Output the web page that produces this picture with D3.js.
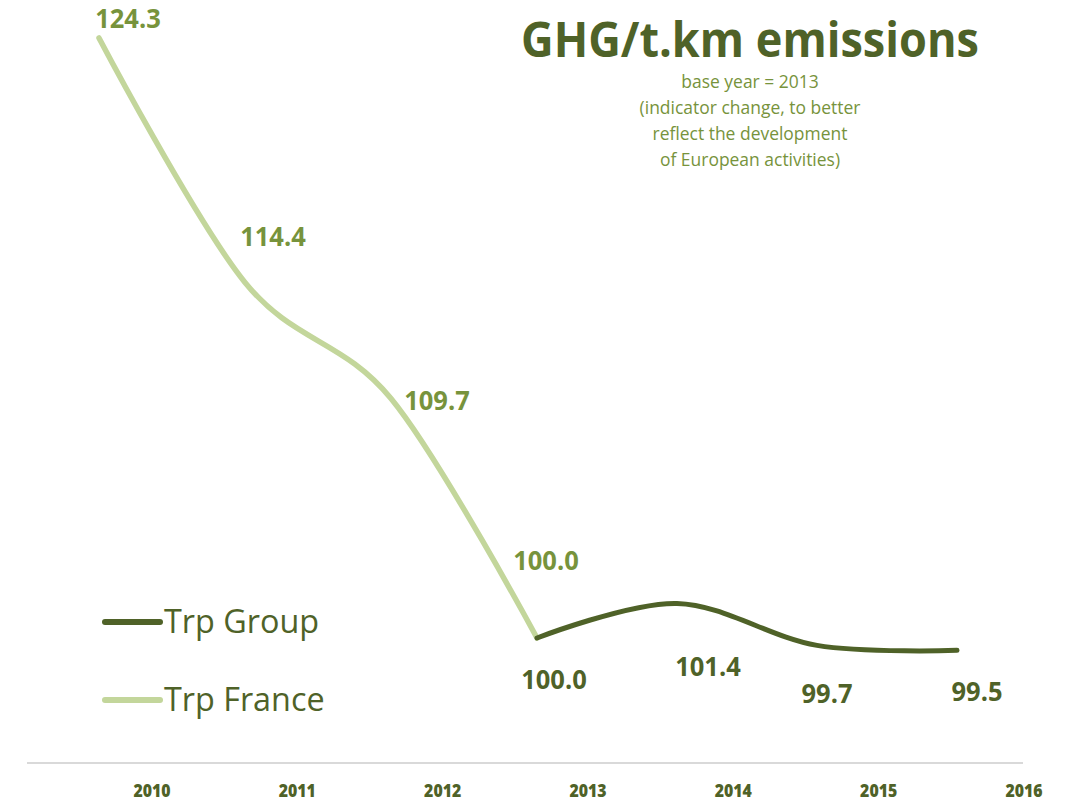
<!DOCTYPE html>
<html>
<head>
<meta charset="utf-8">
<script src="https://cdn.jsdelivr.net/npm/d3@7"></script>
<style>
  body { margin: 0; background: #fff; }
  text { font-family: "Open Sans", "Noto Sans", sans-serif; }
</style>
</head>
<body>
<div id="wrapper"></div>
<script>
// 1. Data
const years = ["2010", "2011", "2012", "2013", "2014", "2015", "2016"]
const franceYears = ["2010", "2011", "2012", "2013"]
const franceValues = [124.3, 114.4, 109.7, 100.0]
const groupYears = ["2013", "2014", "2015", "2016"]
const groupValues = [100.0, 101.4, 99.7, 99.5]
const seriesNames = ["Trp Group", "Trp France"]
const subtitleLines = ["base year = 2013", "(indicator change, to better",
                       "reflect the development", "of European activities)"]

// hand placed label nudges (like the original), px from the point
const franceNudge = [[29, -10], [28, -36], [46, 12], [9, -68]]
const groupNudge = [[17, 51], [31, 73], [10, 58], [20, 51]]

const darkGreen = "#4f6228"
const midGreen = "#77933c"
const lightGreen = "#c3d69b"

// 2. Dimensions
const dimensions = { width: 1068, height: 804 }

// 3. Canvas
const svg = d3.select("#wrapper").append("svg")
    .attr("width", dimensions.width)
    .attr("height", dimensions.height)
    .style("display", "block")

// squeeze text horizontally (Calibri is narrower than Open Sans)
const squeeze = (sel, k) => sel.each(function () {
  const w = this.getComputedTextLength()
  d3.select(this).attr("textLength", w * k).attr("lengthAdjust", "spacingAndGlyphs")
})

// 4. Scales
const xFrance = d3.scalePoint().domain(franceYears).range([99, 537])
const xGroup = d3.scalePoint().domain(groupYears).range([537, 957])
const xAxisScale = d3.scalePoint().domain(years).range([152, 1024])
const yScale = d3.scaleLinear().domain([100, 124.3]).range([638, 38])

// 5. Axis
svg.append("line")
    .attr("x1", 27).attr("x2", 1023)
    .attr("y1", 763).attr("y2", 763)
    .attr("stroke", "#d9d9d9")
    .attr("stroke-width", 2)

svg.append("g").selectAll("text")
  .data(years)
  .join("text")
    .attr("x", d => xAxisScale(d))
    .attr("y", 797)
    .attr("text-anchor", "middle")
    .attr("fill", darkGreen)
    .style("font-size", "18px")
    .style("font-weight", 800)
    .text(d => d)
    .call(squeeze, 0.88)

// 6. Lines
const line = d3.line().curve(d3.curveCardinal.tension(0))

const francePts = franceValues.map((v, i) => [xFrance(franceYears[i]), yScale(v)])
const groupPts = groupValues.map((v, i) => [xGroup(groupYears[i]), yScale(v)])

svg.append("path")
    .attr("d", line(francePts))
    .attr("fill", "none")
    .attr("stroke", lightGreen)
    .attr("stroke-width", 5.5)
    .attr("stroke-linecap", "round")

svg.append("path")
    .attr("d", line(groupPts))
    .attr("fill", "none")
    .attr("stroke", darkGreen)
    .attr("stroke-width", 5)
    .attr("stroke-linecap", "round")

// 7. Data labels
svg.append("g").selectAll("text")
  .data(franceValues)
  .join("text")
    .attr("x", (d, i) => francePts[i][0] + franceNudge[i][0])
    .attr("y", (d, i) => francePts[i][1] + franceNudge[i][1])
    .attr("text-anchor", "middle")
    .attr("fill", midGreen)
    .style("font-size", "26px")
    .style("font-weight", 700)
    .text(d => d3.format(".1f")(d))
    .call(squeeze, 0.98)

svg.append("g").selectAll("text")
  .data(groupValues)
  .join("text")
    .attr("x", (d, i) => groupPts[i][0] + groupNudge[i][0])
    .attr("y", (d, i) => groupPts[i][1] + groupNudge[i][1])
    .attr("text-anchor", "middle")
    .attr("fill", darkGreen)
    .style("font-size", "26px")
    .style("font-weight", 700)
    .text(d => d3.format(".1f")(d))
    .call(squeeze, 0.98)

// 8. Title
svg.append("text")
    .attr("x", 750)
    .attr("y", 57)
    .attr("text-anchor", "middle")
    .attr("fill", darkGreen)
    .style("font-size", "49px")
    .style("font-weight", 700)
    .text("GHG/t.km emissions")
    .call(squeeze, 0.92)

svg.append("g").selectAll("text")
  .data(subtitleLines)
  .join("text")
    .attr("x", 750)
    .attr("y", (d, i) => 88 + i * 26)
    .attr("text-anchor", "middle")
    .attr("fill", midGreen)
    .style("font-size", "18px")
    .text(d => d)
    .call(squeeze, 0.97)

// 9. Legend
const legendColors = [darkGreen, lightGreen]
const legend = svg.append("g").selectAll("g")
  .data(seriesNames)
  .join("g")
    .attr("transform", (d, i) => `translate(105, ${622 + i * 78})`)

legend.append("line")
    .attr("x1", 0).attr("x2", 55)
    .attr("stroke", (d, i) => legendColors[i])
    .attr("stroke-width", 6)
    .attr("stroke-linecap", "round")

legend.append("text")
    .attr("x", 59)
    .attr("y", 11)
    .attr("fill", darkGreen)
    .style("font-size", "33px")
    .text(d => d)
    .call(squeeze, 0.98)
</script>
</body>
</html>
